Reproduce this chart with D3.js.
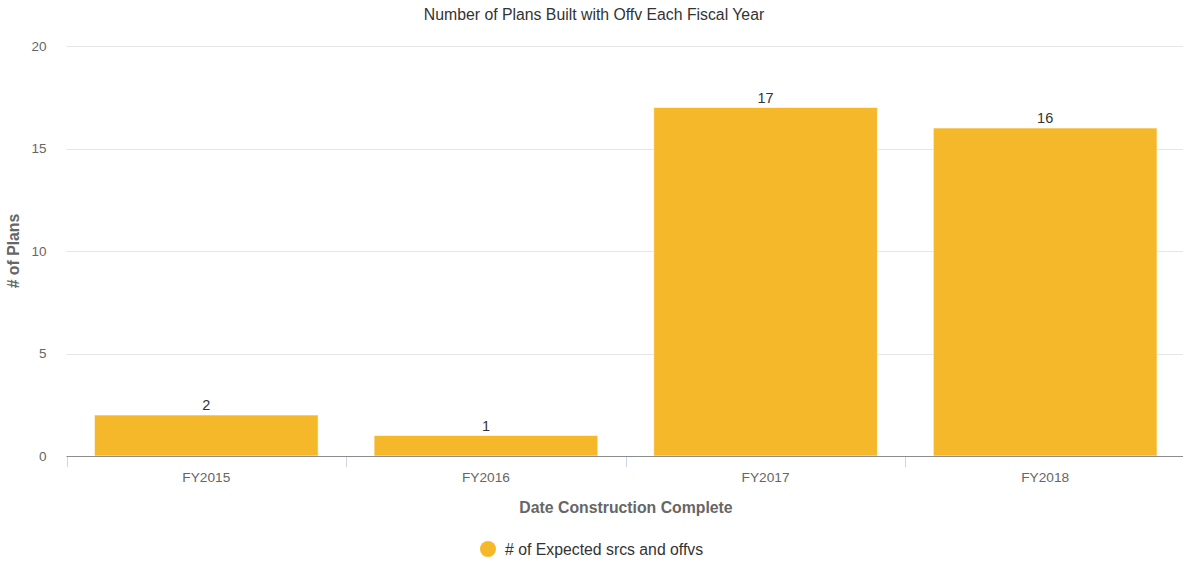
<!DOCTYPE html>
<html>
<head>
<meta charset="utf-8">
<script src="https://cdn.jsdelivr.net/npm/d3@7"></script>
<style>
  html, body { margin: 0; padding: 0; background: #fff; }
  svg { display: block; font-family: "Liberation Sans", Arial, Helvetica, sans-serif; }
</style>
</head>
<body>
<svg id="chart" width="1183" height="562"></svg>
<script>
// Plans completed per fiscal year
const categories = ["FY2015", "FY2016", "FY2017", "FY2018"];
const planCounts = [2, 1, 17, 16];
const yTicks = [0, 5, 10, 15, 20];
const seriesName = "# of Expected srcs and offvs";
const chartTitle = "Number of Plans Built with Offv Each Fiscal Year";
const xAxisTitle = "Date Construction Complete";
const yAxisTitle = "# of Plans";

const svg = d3.select("#chart");
const plot = { left: 66.5, right: 1185, top: 46, bottom: 456 };
const barColor = "#f5b82b";

const x = d3.scaleBand()
  .domain(categories)
  .range([plot.left, plot.right])
  .paddingInner(0.2)
  .paddingOuter(0.1);

const y = d3.scaleLinear().domain([0, 20]).range([plot.bottom, plot.top]);

// Title
svg.append("text")
  .attr("x", 594).attr("y", 20)
  .attr("text-anchor", "middle")
  .attr("font-size", 15.8).attr("fill", "#333")
  .text(chartTitle);

// Horizontal gridlines
svg.append("g").selectAll("line")
  .data(yTicks.filter(d => d > 0))
  .join("line")
  .attr("x1", plot.left).attr("x2", plot.right)
  .attr("y1", d => Math.round(y(d)) + 0.5).attr("y2", d => Math.round(y(d)) + 0.5)
  .attr("stroke", "#e6e6e6").attr("stroke-width", 1);

// Y axis labels
const yAxis = d3.axisLeft(y).tickValues(yTicks).tickSize(0).tickPadding(0);
const gy = svg.append("g").attr("transform", `translate(${plot.left - 20},0)`).call(yAxis);
gy.select(".domain").remove();
gy.selectAll("text").attr("font-size", 13.5).attr("fill", "#666")
  .attr("font-family", "Liberation Sans, Arial, sans-serif");

// Bars
svg.append("g").selectAll("rect")
  .data(categories.map((c, i) => ({ c, v: planCounts[i] })))
  .join("rect")
  .attr("x", d => x(d.c))
  .attr("y", d => y(d.v))
  .attr("width", x.bandwidth())
  .attr("height", d => y(0) - y(d.v))
  .attr("fill", barColor)
  .attr("stroke", "#fff").attr("stroke-width", 1).attr("stroke-opacity", 0.6);

// Value labels
svg.append("g").selectAll("text")
  .data(categories.map((c, i) => ({ c, v: planCounts[i] })))
  .join("text")
  .attr("x", d => x(d.c) + x.bandwidth() / 2)
  .attr("y", d => y(d.v) - 5)
  .attr("text-anchor", "middle")
  .attr("font-size", 14.5).attr("fill", "#333")
  .text(d => d.v);

// X axis: baseline, category boundary ticks, labels
const gx = svg.append("g");
gx.append("line")
  .attr("x1", plot.left).attr("x2", plot.right)
  .attr("y1", plot.bottom + 0.5).attr("y2", plot.bottom + 0.5)
  .attr("stroke", "#8c8c8c").attr("stroke-width", 1);
const boundaries = d3.range(categories.length + 1).map(i => plot.left + i * (plot.right - plot.left) / categories.length);
gx.selectAll("line.tick")
  .data(boundaries)
  .join("line")
  .attr("class", "tick")
  .attr("x1", d => Math.round(d) + 0.5).attr("x2", d => Math.round(d) + 0.5)
  .attr("y1", plot.bottom + 1).attr("y2", plot.bottom + 11)
  .attr("stroke", "#ccd6eb").attr("stroke-width", 1);
gx.selectAll("text")
  .data(categories)
  .join("text")
  .attr("x", d => x(d) + x.bandwidth() / 2)
  .attr("y", plot.bottom + 26)
  .attr("text-anchor", "middle")
  .attr("font-size", 13.7).attr("fill", "#666")
  .text(d => d);

// Axis titles
svg.append("text")
  .attr("x", 626).attr("y", 513)
  .attr("text-anchor", "middle")
  .attr("font-size", 15.8).attr("font-weight", "bold").attr("fill", "#666")
  .text(xAxisTitle);

svg.append("text")
  .attr("transform", `translate(19, ${(plot.top + plot.bottom) / 2}) rotate(-90)`)
  .attr("text-anchor", "middle")
  .attr("font-size", 15.8).attr("font-weight", "bold").attr("fill", "#666")
  .text(yAxisTitle);

// Legend
const legend = svg.append("g").attr("transform", "translate(488, 549)");
legend.append("circle").attr("r", 8).attr("fill", barColor);
legend.append("text")
  .attr("x", 17).attr("y", 5.5)
  .attr("font-size", 15.8).attr("fill", "#333")
  .text(seriesName);
</script>
</body>
</html>
